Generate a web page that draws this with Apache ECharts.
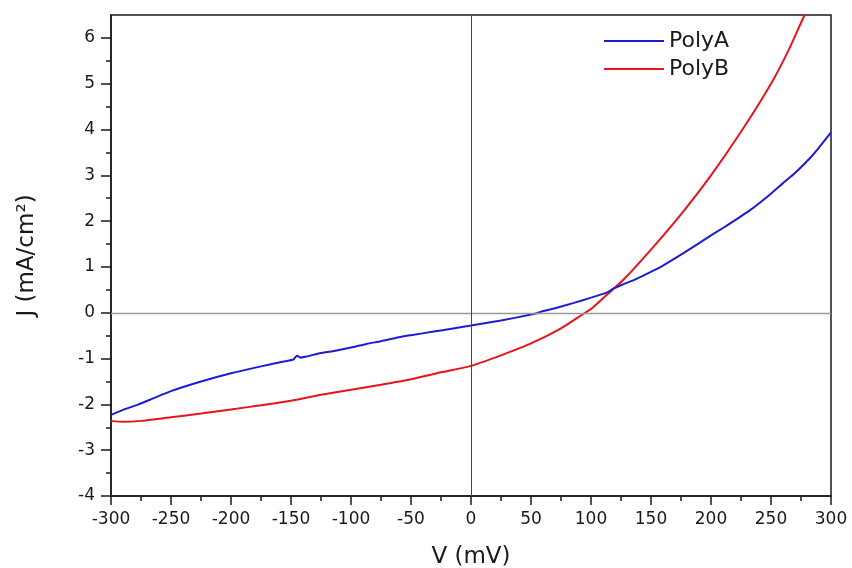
<!DOCTYPE html>
<html>
<head>
<meta charset="utf-8">
<script src="https://cdn.jsdelivr.net/npm/echarts@6/dist/echarts.min.js"></script>
<style>
  html, body { margin: 0; padding: 0; background: #fff; }
  #main { width: 852px; height: 568px; }
</style>
</head>
<body>
<div id="main"></div>
<script>
// PolyA (blue) - voltage in mV, current density in mA/cm2
var vA = [-300, -290, -277, -265, -250, -225, -200, -175, -155, -148, -145, -142, -138, -125, -115, -100, -87, -75, -59, -50, -31, -25, 0, 25, 50, 55, 58, 70, 85, 100, 113, 119, 125, 138, 149, 160, 177, 200, 210, 232, 250, 260, 270, 285, 300];
var jA = [-2.23, -2.12, -2.00, -1.87, -1.71, -1.50, -1.32, -1.17, -1.06, -1.02, -0.94, -0.98, -0.96, -0.88, -0.84, -0.76, -0.68, -0.62, -0.53, -0.49, -0.41, -0.385, -0.28, -0.17, -0.04, -0.01, 0.02, 0.10, 0.21, 0.33, 0.44, 0.53, 0.60, 0.74, 0.88, 1.03, 1.30, 1.69, 1.85, 2.23, 2.60, 2.83, 3.05, 3.45, 3.94];

// PolyB (red)
var vB = [-300, -290, -275, -250, -225, -200, -175, -150, -125, -100, -75, -50, -25, 0, 25, 50, 75, 95, 100, 116, 127, 150, 175, 200, 225, 250, 265, 278, 290];
var jB = [-2.36, -2.38, -2.36, -2.28, -2.20, -2.11, -2.02, -1.92, -1.79, -1.68, -1.57, -1.45, -1.30, -1.16, -0.93, -0.67, -0.34, 0.00, 0.08, 0.46, 0.72, 1.38, 2.15, 3.00, 3.95, 5.00, 5.75, 6.50, 7.10];

var yMajor = [-4, -3, -2, -1, 0, 1, 2, 3, 4, 5, 6];
var yMinor = [-3.5, -2.5, -1.5, -0.5, 0.5, 1.5, 2.5, 3.5, 4.5, 5.5];

function pairs(xs, ys) {
  return xs.map(function (x, i) { return [x, ys[i]]; });
}

var font = 'DejaVu Sans';
var chart = echarts.init(document.getElementById('main'));

var option = {
  backgroundColor: '#fff',
  animation: false,
  textStyle: { fontFamily: font },
  grid: {
    left: 111, right: 21, top: 15, bottom: 72,
    show: true, borderColor: '#1a1a1a', borderWidth: 1.5,
    outerBoundsMode: 'none'
  },
  legend: {
    orient: 'vertical',
    left: 599, top: 25,
    itemWidth: 60, itemHeight: 2, itemGap: 6,
    icon: 'rect',
    textStyle: { fontFamily: font, fontSize: 22, color: '#1a1a1a' },
    data: ['PolyA', 'PolyB']
  },
  xAxis: {
    type: 'value',
    min: -300, max: 300, interval: 50,
    name: 'V (mV)', nameLocation: 'middle', nameGap: 50,
    nameTextStyle: { fontFamily: font, fontSize: 23, color: '#1a1a1a' },
    axisLine: { onZero: false, lineStyle: { color: '#1a1a1a', width: 1.5 } },
    axisTick: { length: 9, lineStyle: { color: '#1a1a1a', width: 1.5 } },
    minorTick: { show: true, splitNumber: 2, length: 5, lineStyle: { color: '#1a1a1a', width: 1.5 } },
    axisLabel: { fontFamily: font, fontSize: 17, color: '#1a1a1a', margin: 15 },
    splitLine: { show: false }
  },
  yAxis: [{
    type: 'value',
    min: -4, max: 6.5,
    name: 'J (mA/cm²)', nameLocation: 'middle', nameGap: 72,
    nameTextStyle: { fontFamily: font, fontSize: 23, color: '#1a1a1a' },
    axisLine: { onZero: false, lineStyle: { color: '#1a1a1a', width: 1.5 } },
    axisTick: { length: 10, customValues: yMajor, lineStyle: { color: '#1a1a1a', width: 1.5 } },
    axisLabel: { fontFamily: font, fontSize: 17, color: '#1a1a1a', margin: 16, customValues: yMajor },
    splitLine: { show: false }
  }, {
    type: 'value',
    position: 'left',
    min: -4, max: 6.5,
    axisLine: { show: false, onZero: false },
    axisTick: { length: 5, customValues: yMinor, lineStyle: { color: '#1a1a1a', width: 1.5 } },
    axisLabel: { show: false },
    splitLine: { show: false }
  }],
  series: [{
    name: 'PolyA',
    type: 'line',
    data: pairs(vA, jA),
    showSymbol: false,
    smooth: 0.2,
    color: '#1c1cd8',
    lineStyle: { width: 2 },
    markLine: {
      silent: true,
      symbol: 'none',
      label: { show: false },
      data: [
        { yAxis: 0, lineStyle: { color: '#9a9a9a', width: 1.3, type: 'solid' } },
        { xAxis: 0, lineStyle: { color: '#444', width: 1, type: 'solid' } }
      ]
    },
    z: 3
  }, {
    name: 'PolyB',
    type: 'line',
    data: pairs(vB, jB),
    showSymbol: false,
    smooth: 0.2,
    color: '#e8141c',
    lineStyle: { width: 2 },
    z: 2
  }]
};

chart.setOption(option);
</script>
</body>
</html>
